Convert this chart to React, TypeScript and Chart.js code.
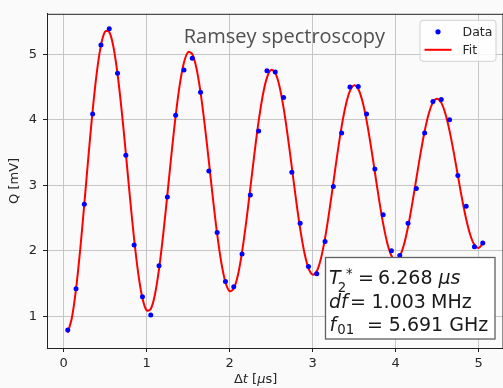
import React, { useEffect, useRef } from "react";
import { Chart, registerables } from "chart.js";

Chart.register(...registerables);

// ---------- data ----------
const tData = [
  0.05, 0.15, 0.25, 0.35, 0.45, 0.55, 0.65, 0.75, 0.85, 0.95,
  1.05, 1.15, 1.25, 1.35, 1.45, 1.55, 1.65, 1.75, 1.85, 1.95,
  2.05, 2.15, 2.25, 2.35, 2.45, 2.55, 2.65, 2.75, 2.85, 2.95,
  3.05, 3.15, 3.25, 3.35, 3.45, 3.55, 3.65, 3.75, 3.85, 3.95,
  4.05, 4.15, 4.25, 4.35, 4.45, 4.55, 4.65, 4.75, 4.85, 4.95,
  5.05,
];
const qData = [
  0.79, 1.42, 2.71, 4.09, 5.14, 5.39, 4.71, 3.46, 2.09, 1.30,
  1.02, 1.77, 2.82, 4.07, 4.76, 4.94, 4.42, 3.22, 2.28, 1.53,
  1.45, 1.95, 2.85, 3.83, 4.75, 4.73, 4.34, 3.20, 2.42, 1.76,
  1.65, 2.14, 2.98, 3.80, 4.50, 4.51, 4.09, 3.25, 2.55, 2.00,
  1.93, 2.42, 2.95, 3.80, 4.28, 4.31, 4.00, 3.15, 2.68, 2.06,
  2.12,
];
const tFit = [
  0.05, 0.10, 0.15, 0.20, 0.25, 0.30, 0.35, 0.40, 0.45, 0.50,
  0.55, 0.60, 0.65, 0.70, 0.75, 0.80, 0.85, 0.90, 0.95, 1.00,
  1.05, 1.10, 1.15, 1.20, 1.25, 1.30, 1.35, 1.40, 1.45, 1.50,
  1.55, 1.60, 1.65, 1.70, 1.75, 1.80, 1.85, 1.90, 1.95, 2.00,
  2.05, 2.10, 2.15, 2.20, 2.25, 2.30, 2.35, 2.40, 2.45, 2.50,
  2.55, 2.60, 2.65, 2.70, 2.75, 2.80, 2.85, 2.90, 2.95, 3.00,
  3.05, 3.10, 3.15, 3.20, 3.25, 3.30, 3.35, 3.40, 3.45, 3.50,
  3.55, 3.60, 3.65, 3.70, 3.75, 3.80, 3.85, 3.90, 3.95, 4.00,
  4.05, 4.10, 4.15, 4.20, 4.25, 4.30, 4.35, 4.40, 4.45, 4.50,
  4.55, 4.60, 4.65, 4.70, 4.75, 4.80, 4.85, 4.90, 4.95, 5.00,
  5.05,
];
const qFit = [
  0.748, 0.978, 1.417, 2.017, 2.720, 3.452, 4.141, 4.721, 5.136, 5.348,
  5.340, 5.115, 4.699, 4.137, 3.484, 2.809, 2.176, 1.648, 1.275, 1.091,
  1.111, 1.330, 1.724, 2.250, 2.855, 3.479, 4.059, 4.540, 4.874, 5.033,
  5.003, 4.790, 4.418, 3.927, 3.365, 2.790, 2.258, 1.821, 1.521, 1.384,
  1.422, 1.628, 1.980, 2.439, 2.960, 3.491, 3.978, 4.375, 4.644, 4.761,
  4.716, 4.517, 4.185, 3.756, 3.273, 2.784, 2.337, 1.977, 1.736, 1.637,
  1.687, 1.880, 2.193, 2.593, 3.041, 3.491, 3.900, 4.227, 4.442, 4.525,
  4.471, 4.286, 3.991, 3.618, 3.203, 2.788, 2.414, 2.117, 1.925, 1.856,
  1.914, 2.091, 2.368, 2.717, 3.102, 3.484, 3.826, 4.095, 4.266, 4.323,
  4.262, 4.092, 3.831, 3.506, 3.150, 2.798, 2.486, 2.242, 2.090, 2.044,
  2.106,
];
const xTicks = [0, 1, 2, 3, 4, 5];
const yTicks = [1, 2, 3, 4, 5];
const xRange = [-0.2, 5.3];
const yRange = [0.516, 5.618];

const TITLE = "Ramsey spectroscopy";
const LABEL_DATA = "Data";
const LABEL_FIT = "Fit";
const T2_VALUE = "6.268";
const DF_VALUE = "1.003";
const F01_VALUE = "5.691";

// ---------- style ----------
const BG = "#fafafa";
const SPINE = "#222222";
const GRID = "#c6c6c6";
const TEXT = "#262626";
const FONT = '"DejaVu Sans"';

type Seg = { t: string; x: number; dy?: number; size?: number; italic?: boolean };

function drawSegs(ctx: CanvasRenderingContext2D, segs: Seg[], baseX: number, baseY: number, size: number) {
  for (const s of segs) {
    const sz = s.size ?? size;
    ctx.font = `${s.italic ? "italic " : ""}${sz}px ${FONT}`;
    ctx.fillText(s.t, baseX + s.x, baseY + (s.dy ?? 0));
  }
}

const decor = {
  id: "decor",
  beforeDraw(chart: any) {
    const { ctx, width, height } = chart;
    ctx.save();
    ctx.fillStyle = BG;
    ctx.fillRect(0, 0, width, height);
    ctx.restore();
  },
  afterDraw(chart: any) {
    const { ctx, chartArea: a } = chart;
    ctx.save();
    // top & right spines
    ctx.strokeStyle = SPINE;
    ctx.lineWidth = 1;
    ctx.beginPath();
    ctx.moveTo(a.left, a.top + 0.5);
    ctx.lineTo(a.right, a.top + 0.5);
    ctx.moveTo(a.right - 0.5, a.top);
    ctx.lineTo(a.right - 0.5, a.bottom);
    ctx.stroke();

    // title inside plot
    ctx.fillStyle = "#505050";
    ctx.textAlign = "center";
    ctx.textBaseline = "alphabetic";
    ctx.font = '20px "Open Sans"';
    ctx.fillText(TITLE, a.left + 0.52 * (a.right - a.left), a.top + 29);

    // legend
    const lx = a.right - 83.5;
    const ly = a.top + 6.5;
    ctx.beginPath();
    ctx.roundRect(lx, ly, 76, 41, 3);
    ctx.fillStyle = "rgba(255,255,255,0.8)";
    ctx.fill();
    ctx.strokeStyle = "#d0d0d0";
    ctx.lineWidth = 1;
    ctx.stroke();
    const ds = chart.data.datasets;
    ctx.fillStyle = "#0000ff";
    ctx.beginPath();
    ctx.arc(lx + 18, ly + 11.5, 2.6, 0, Math.PI * 2);
    ctx.fill();
    ctx.strokeStyle = "#ff0000";
    ctx.lineWidth = 2;
    ctx.beginPath();
    ctx.moveTo(lx + 4.5, ly + 29.5);
    ctx.lineTo(lx + 31.5, ly + 29.5);
    ctx.stroke();
    ctx.fillStyle = TEXT;
    ctx.textAlign = "left";
    ctx.font = `12.5px ${FONT}`;
    ctx.fillText(ds[0].label, lx + 42.5, ly + 16);
    ctx.fillText(ds[1].label, lx + 42.5, ly + 34);

    // text box
    const bx = a.left + 278.5;
    const by = a.bottom - 90.5;
    ctx.fillStyle = "#ffffff";
    ctx.fillRect(bx, by, 169.5, 81.5);
    ctx.strokeStyle = "#606060";
    ctx.lineWidth = 1.3;
    ctx.strokeRect(bx, by, 169.5, 81.5);
    ctx.fillStyle = "#1a1a1a";
    ctx.textAlign = "left";
    const x0 = bx;
    drawSegs(ctx, [
      { t: "T", x: 3.5, italic: true },
      { t: "2", x: 12.2, dy: 7.7, size: 13.3 },
      { t: "*", x: 20.5, dy: -6, size: 13.3 },
      { t: "=", x: 32.6 },
      { t: T2_VALUE, x: 52.6 },
      { t: "μs", x: 113, italic: true },
    ], x0, by + 26.5, 19);
    drawSegs(ctx, [
      { t: "df", x: 3.5, italic: true },
      { t: "=", x: 24.5 },
      { t: DF_VALUE, x: 46 },
      { t: "MHz", x: 105.5 },
    ], x0, by + 50.2, 19);
    drawSegs(ctx, [
      { t: "f", x: 4, italic: true },
      { t: "01", x: 11.8, dy: 3, size: 13.3 },
      { t: "=", x: 41.5 },
      { t: F01_VALUE + " GHz", x: 63.3 },
    ], x0, by + 73.4, 19);

    // axis labels
    ctx.fillStyle = TEXT;
    const xl: Seg[] = [
      { t: "Δ", x: 0 },
      { t: "t", x: 0, italic: true },
      { t: " [", x: 0 },
      { t: "μ", x: 0, italic: true },
      { t: "s]", x: 0 },
    ];
    let w = 0;
    for (const s of xl) {
      ctx.font = `${s.italic ? "italic " : ""}13px ${FONT}`;
      s.x = w;
      w += ctx.measureText(s.t).width;
    }
    drawSegs(ctx, xl, a.left + 0.457 * (a.right - a.left) - w / 2, a.bottom + 35, 13);

    ctx.translate(15, (a.top + a.bottom) / 2);
    ctx.rotate(-Math.PI / 2);
    ctx.textAlign = "center";
    ctx.textBaseline = "middle";
    ctx.font = `13px ${FONT}`;
    ctx.fillText("Q [mV]", 0, 0);
    ctx.restore();
  },
};

export default function App() {
  const ref = useRef<HTMLCanvasElement>(null);
  useEffect(() => {
    document.body.style.margin = "0";
    const canvas = ref.current;
    if (!canvas) return;
    const chart = new Chart(canvas, {
      type: "scatter",
      data: {
        datasets: [
          {
            label: LABEL_DATA,
            data: tData.map((t, i) => ({ x: t, y: qData[i] })),
            showLine: false,
            pointRadius: 2.5,
            pointHoverRadius: 2.5,
            pointBackgroundColor: "#0000ff",
            pointBorderWidth: 0,
            borderColor: "#0000ff",
            order: 0,
          },
          {
            label: LABEL_FIT,
            data: tFit.map((t, i) => ({ x: t, y: qFit[i] })),
            showLine: true,
            pointRadius: 0,
            borderColor: "#ff0000",
            borderWidth: 2,
            tension: 0.33,
            order: 1,
          },
        ],
      },
      options: {
        animation: false,
        responsive: true,
        maintainAspectRatio: false,
        devicePixelRatio: 1,
        layout: { padding: { top: 6, right: 0, bottom: 0, left: 0 } },
        plugins: { legend: { display: false }, tooltip: { enabled: false }, title: { display: false } },
        events: [],
        scales: {
          x: {
            type: "linear",
            min: xRange[0],
            max: xRange[1],
            afterBuildTicks: (s: any) => {
              s.ticks = xTicks.map((v) => ({ value: v }));
            },
            afterFit: (s: any) => {
              s.height = 40;
            },
            ticks: {
              font: { family: "DejaVu Sans", size: 13 },
              color: TEXT,
              padding: 4,
              maxRotation: 0,
              callback: (v: any) => String(v),
            },
            grid: { color: GRID, lineWidth: 1, tickColor: SPINE, tickLength: 4, tickWidth: 1 },
            border: { display: true, color: SPINE, width: 1 },
          },
          y: {
            type: "linear",
            min: yRange[0],
            max: yRange[1],
            afterBuildTicks: (s: any) => {
              s.ticks = yTicks.map((v) => ({ value: v }));
            },
            afterFit: (s: any) => {
              s.width = 47;
            },
            ticks: {
              font: { family: "DejaVu Sans", size: 13 },
              color: TEXT,
              padding: 6,
              callback: (v: any) => String(v),
            },
            grid: { color: GRID, lineWidth: 1, tickColor: SPINE, tickLength: 4, tickWidth: 1 },
            border: { display: true, color: SPINE, width: 1 },
          },
        },
      },
      plugins: [decor],
    } as any);
    return () => chart.destroy();
  }, []);

  return (
    <div style={{ width: 503, height: 388, overflow: "hidden", background: BG }}>
      <div style={{ width: 506, height: 388, position: "relative" }}>
        <canvas ref={ref} />
      </div>
    </div>
  );
}
